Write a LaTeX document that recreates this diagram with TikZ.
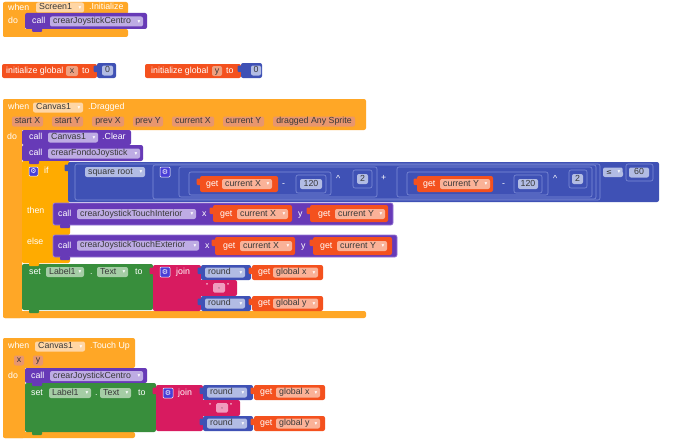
\documentclass[tikz,border=0pt]{standalone}
\usepackage{fontspec}
\setmainfont{Liberation Sans}
\newfontfamily\dv{DejaVu Sans}
\definecolor{evo}{RGB}{255,167,38}
\definecolor{evl}{RGB}{255,214,165}
\definecolor{prm}{RGB}{232,150,110}
\definecolor{ifo}{RGB}{255,171,0}
\definecolor{pur}{RGB}{103,58,183}
\definecolor{purl}{RGB}{190,172,228}
\definecolor{puro}{RGB}{150,120,215}
\definecolor{gred}{RGB}{244,81,30}
\definecolor{gredl}{RGB}{250,178,152}
\definecolor{varl}{RGB}{238,160,128}
\definecolor{grn}{RGB}{56,142,60}
\definecolor{grnl}{RGB}{165,205,165}
\definecolor{mag}{RGB}{216,27,96}
\definecolor{magl}{RGB}{240,155,190}
\definecolor{mbl}{RGB}{63,81,181}
\definecolor{mbll}{RGB}{178,188,228}
\definecolor{mbo}{RGB}{128,142,215}
\definecolor{gearc}{RGB}{72,62,215}
\tikzset{
  lbl/.style={text=white, font=\fontsize{8.8}{9}\selectfont, inner sep=0pt, anchor=west, text height=6.2pt, text depth=2pt},
  ddt/.style={text=black!78, font=\fontsize{8.8}{9}\selectfont, inner sep=0pt, anchor=west, text height=6.2pt, text depth=2pt},
  arr/.style={text=white, font=\dv\fontsize{5.5}{6}\selectfont, inner sep=0pt, anchor=east},
}
\newcommand\rkblk[5]{\fill[#1,rounded corners=2pt] (#2,#3) rectangle (#4,#5);}
\newcommand\rkob[6]{\filldraw[fill=#1,draw=#2,line width=0.6pt,rounded corners=2pt] (#3,#4) rectangle (#5,#6);}
\newcommand\rktab[3]{\fill[#1,rounded corners=1pt] (#2-3.5,#3+2.5) rectangle (#2+1,#3+9);}
\newcommand\rkbump[3]{\fill[#1,rounded corners=1pt] (#2+7,#3-1) rectangle (#2+17,#3+3);}
\newcommand\rklab[3]{\node[lbl] at (#1,#2) {#3};}
\newcommand\rkdd[5]{\fill[#1,rounded corners=2pt] (#2,#4-5) rectangle (#3,#4+5);
  \node[ddt] at (#2+3,#4) {#5};
  \node[arr] at (#3-2.5,#4+0.3) {▾};}
\newcommand\rkbox[5]{\fill[#1,rounded corners=2pt] (#2,#4-5) rectangle (#3,#4+5);
  \node[ddt,anchor=center] at ({(#2+#3)/2},#4) {#5};}
\newcommand\rkgear[3]{\filldraw[fill=gearc,draw=white,line width=0.5pt,rounded corners=1pt] (#1,#2) rectangle (#1+#3,#2+#3);
  \node[text=white,font=\dv\fontsize{7}{7}\selectfont,inner sep=0pt] at (#1+#3/2,#2+#3/2) {⚙};}
\newcommand\rktext[3]{% x1 y1 (top) : text block with quotes
  \rktab{mag}{#1}{#2}
  \rkblk{mag}{#1}{#2}{#1+40}{#2+16}
  \node[text=white,font=\fontsize{7}{7}\selectfont,inner sep=0pt] at (#1+10,#2+6) {"};
  \node[text=white,font=\fontsize{7}{7}\selectfont,inner sep=0pt] at (#1+31,#2+6) {"};
  \fill[magl,rounded corners=1.5pt] (#1+16,#2+3) rectangle (#1+28,#2+12.5);
  \node[text=black!70,font=\fontsize{7}{7}\selectfont,inner sep=0pt] at (#1+22,#2+9) {,};}
\begin{document}
\begin{tikzpicture}[x=1pt,y=-1pt]
\useasboundingbox (0,0) rectangle (690,444);
\fill[white] (0,0) rectangle (690,444);

% ---------- Screen1.Initialize ----------
\rkblk{evo}{3}{2}{128}{14}
\rkblk{evo}{3}{2}{25}{37}
\rkblk{evo}{3}{29}{128}{37}
\rkblk{pur}{25}{13}{147}{29}
\rkbump{pur}{25}{29}
\rklab{8}{8}{when}
\rkdd{evl}{36}{84}{7.5}{Screen1}
\rklab{89}{7.5}{.Initialize}
\rklab{8}{21}{do}
\rklab{32}{21.5}{call}
\rkdd{purl}{50}{143}{21.5}{crearJoystickCentro}

% ---------- initialize globals ----------
\rkblk{gred}{2}{64}{97}{78}
\rklab{6}{71}{initialize global}
\rkbox{varl}{66}{78}{71}{x}
\rklab{82}{71}{to}
\rktab{mbl}{97}{63}
\rkblk{mbl}{97}{63}{116}{78}
\rkbox{mbll}{102}{113}{70.5}{0}

\rkblk{gred}{145}{64}{241}{78}
\rklab{151}{71}{initialize global}
\rkbox{varl}{212}{222}{71}{y}
\rklab{226}{71}{to}
\rktab{mbl}{241}{63}
\rkblk{mbl}{241}{63}{262}{78}
\rkbox{mbll}{251}{261}{70.5}{0}

% ---------- Canvas1.Dragged ----------
\rkblk{evo}{3}{99}{366}{130}
\rkblk{evo}{3}{99}{22}{318}
\rkblk{evo}{3}{311}{366}{318}
\rklab{8}{107}{when}
\rkdd{evl}{33}{83}{107.5}{Canvas1}
\rklab{88}{107.5}{.Dragged}
\rkbox{prm}{12}{43}{121.5}{start X}
\rkbox{prm}{52}{83}{121.5}{start Y}
\rkbox{prm}{92}{124}{121.5}{prev X}
\rkbox{prm}{133}{163}{121.5}{prev Y}
\rkbox{prm}{172}{214}{121.5}{current X}
\rkbox{prm}{223}{264}{121.5}{current Y}
\rkbox{prm}{273}{355}{121.5}{dragged Any Sprite}
\rklab{7}{137.5}{do}

\rkblk{pur}{22}{130}{131}{145}
\rklab{29}{137.5}{call}
\rkdd{purl}{48}{98}{137.5}{Canvas1}
\rklab{102}{137.5}{.Clear}

\rkblk{pur}{22}{145}{143}{161}
\rklab{29}{153}{call}
\rkdd{purl}{48}{140}{153.5}{crearFondoJoystick}

% if block
\rkblk{ifo}{22}{161}{70}{203}
\rkblk{ifo}{22}{161}{53}{263}
\rkblk{ifo}{22}{225}{70}{235}
\rkblk{ifo}{22}{257}{70}{263}
\rkgear{29}{167}{9}
\rklab{44}{171}{if}
\rklab{27}{211}{then}
\rklab{27}{242}{else}

% condition
\rktab{mbl}{68}{162}
\rkblk{mbl}{68}{162}{659}{202}
\rktab{mbl}{75}{164}
\rkob{mbl}{mbo}{75}{164}{600}{200}
\rkdd{mbll}{85}{145}{172}{square root}
\rktab{mbl}{153}{165}
\rkob{mbl}{mbo}{153}{165}{596}{199}
\rkgear{160}{167}{10}
% power 1
\rktab{mbl}{179}{167}
\rkob{mbl}{mbo}{179}{167}{377}{197}
\rktab{mbl}{189}{172}
\rkob{mbl}{mbo}{189}{172}{331}{195}
\rktab{gred}{200}{176}
\rkblk{gred}{200}{176}{278}{192}
\rklab{206}{184}{get}
\rkdd{gredl}{222}{272}{184}{current X}
\rklab{282}{184}{-}
\rktab{mbl}{296}{175}
\rkob{mbl}{mbo}{296}{175}{326}{193}
\rkbox{mbll}{300}{322}{184}{120}
\rklab{336}{179}{\^{}}
\rktab{mbl}{353}{170}
\rkob{mbl}{mbo}{353}{170}{372}{188}
\rkbox{mbll}{357}{368}{179}{2}
\rklab{381}{178}{+}
% power 2
\rktab{mbl}{397}{167}
\rkob{mbl}{mbo}{397}{167}{592}{197}
\rktab{mbl}{407}{172}
\rkob{mbl}{mbo}{407}{172}{548}{195}
\rktab{gred}{417}{176}
\rkblk{gred}{417}{176}{493}{192}
\rklab{423}{184}{get}
\rkdd{gredl}{440}{490}{184}{current Y}
\rklab{502}{184}{-}
\rktab{mbl}{514}{175}
\rkob{mbl}{mbo}{514}{175}{542}{193}
\rkbox{mbll}{518}{538}{184}{120}
\rklab{553}{179}{\^{}}
\rktab{mbl}{569}{170}
\rkob{mbl}{mbo}{569}{170}{587}{188}
\rkbox{mbll}{572}{583}{179}{2}
% compare
\fill[mbll,rounded corners=2pt] (603,167.5) rectangle (623,177);
\node[ddt,font=\dv\fontsize{7}{8}\selectfont] at (606,172.3) {≤};
\node[arr] at (620.5,172.5) {▾};
\rktab{mbl}{626}{164}
\rkob{mbl}{mbo}{626}{164}{653}{181}
\rkbox{mbll}{629}{649}{172.5}{60}

% then
\filldraw[fill=pur,draw=puro,line width=0.6pt,rounded corners=2pt] (53,203) rectangle (393,225);
\rklab{58}{214}{call}
\rkdd{purl}{77}{196}{214}{crearJoystickTouchInterior}
\rklab{202}{214}{x}
\rktab{gred}{213}{205}
\rkblk{gred}{213}{205}{292}{222}
\rklab{220}{214}{get}
\rkdd{gredl}{237}{288}{214}{current X}
\rklab{298}{214}{y}
\rktab{gred}{310}{205}
\rkblk{gred}{310}{205}{388}{222}
\rklab{318}{214}{get}
\rkdd{gredl}{335}{385}{214}{current Y}
% else
\filldraw[fill=pur,draw=puro,line width=0.6pt,rounded corners=2pt] (53,235) rectangle (397,257);
\rklab{58}{246}{call}
\rkdd{purl}{77}{199}{245.5}{crearJoystickTouchExterior}
\rklab{205}{246}{x}
\rktab{gred}{215}{237}
\rkblk{gred}{215}{237}{295}{255}
\rklab{223}{246}{get}
\rkdd{gredl}{240}{292}{246}{current X}
\rklab{301}{246}{y}
\rktab{gred}{313}{237}
\rkblk{gred}{313}{237}{392}{255}
\rklab{320}{246}{get}
\rkdd{gredl}{337}{387}{246}{current Y}

% set Label1.Text
\rkblk{grn}{22}{264}{153}{310}
\rklab{29}{272}{set}
\rkdd{grnl}{46}{84}{272}{Label1}
\rklab{90}{272}{.}
\rkdd{grnl}{97}{128}{272}{Text}
\rklab{135}{272}{to}
\rktab{mag}{153}{265}
\rkblk{mag}{153}{265}{201}{311}
\rkgear{160}{267}{10}
\rklab{176}{272}{join}
\rktab{mbl}{201}{265}
\rkblk{mbl}{201}{265}{251}{280}
\rkdd{mbll}{205}{245}{272.5}{round}
\rktab{gred}{252}{265}
\rkblk{gred}{252}{265}{323}{280}
\rklab{258}{272.5}{get}
\rkdd{gredl}{273}{318}{272.5}{global x}
\rktext{197}{280}{,}
\rktab{mbl}{201}{296}
\rkblk{mbl}{201}{296}{251}{311}
\rkdd{mbll}{205}{245}{303.5}{round}
\rktab{gred}{252}{296}
\rkblk{gred}{252}{296}{323}{311}
\rklab{258}{303.5}{get}
\rkdd{gredl}{273}{318}{303.5}{global y}

\rkbump{pur}{22}{145}
\rkbump{pur}{22}{161}
\rkbump{pur}{53}{225}
\rkbump{pur}{53}{257}
\rkbump{ifo}{22}{263}
\rkbump{grn}{22}{310}

% ---------- Canvas1.Touch Up ----------
\rkblk{evo}{3}{338}{135}{368}
\rkblk{evo}{3}{338}{25}{438}
\rkblk{evo}{3}{432}{135}{438}
\rklab{8}{346}{when}
\rkdd{evl}{35}{85}{346.5}{Canvas1}
\rklab{90}{346.5}{.Touch Up}
\rkbox{prm}{14}{24}{360.5}{x}
\rkbox{prm}{33}{43}{360.5}{y}
\rklab{8}{376}{do}
\rkblk{pur}{25}{368}{147}{383}
\rklab{31}{376}{call}
\rkdd{purl}{50}{143}{376}{crearJoystickCentro}

\rkblk{grn}{25}{383}{156}{432}
\rklab{31}{393}{set}
\rkdd{grnl}{49}{91}{393}{Label1}
\rklab{95}{393}{.}
\rkdd{grnl}{100}{131}{393}{Text}
\rklab{138}{393}{to}
\rktab{mag}{156}{385}
\rkblk{mag}{156}{385}{203}{431}
\rkgear{163}{388}{10}
\rklab{178}{393}{join}
\rktab{mbl}{203}{385}
\rkblk{mbl}{203}{385}{253}{400}
\rkdd{mbll}{207}{247}{392.5}{round}
\rktab{gred}{254}{385}
\rkblk{gred}{254}{385}{325}{400}
\rklab{260}{392.5}{get}
\rkdd{gredl}{276}{320}{392.5}{global x}
\rktext{200}{400}{,}
\rktab{mbl}{203}{416}
\rkblk{mbl}{203}{416}{253}{431}
\rkdd{mbll}{207}{247}{423.5}{round}
\rktab{gred}{254}{416}
\rkblk{gred}{254}{416}{325}{431}
\rklab{260}{423.5}{get}
\rkdd{gredl}{276}{320}{423.5}{global y}
\rkbump{pur}{25}{383}
\rkbump{grn}{25}{432}
\end{tikzpicture}
\end{document}
